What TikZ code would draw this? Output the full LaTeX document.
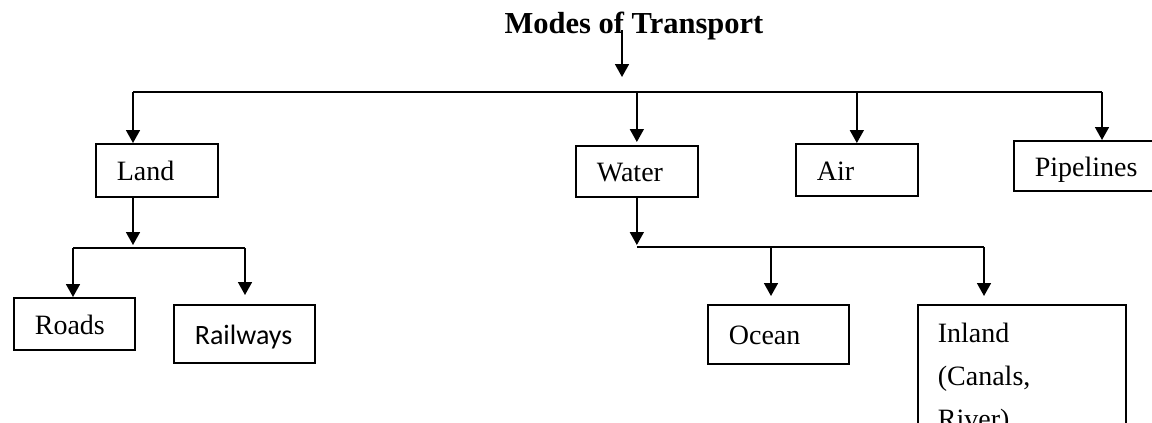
\documentclass[tikz,border=0pt]{standalone}
\usepackage{fontspec}
\setmainfont{Liberation Serif}
\newfontfamily\calibrifont{Carlito}
\usetikzlibrary{arrows.meta}

\begin{document}
\begin{tikzpicture}[x=1pt,y=-1pt,line width=1.7pt,
    >={Triangle[length=13pt,width=14pt]},
    box/.style={draw, anchor=north west, align=left, inner xsep=21pt, inner ysep=0pt,
      font=\fontsize{28}{43}\selectfont},
    cell/.style 2 args={box, text width=#1, minimum height=#2, text height=21pt, text depth=0pt}]
  \useasboundingbox (0,0) rectangle (1152,423);
  \clip (0,0) rectangle (1152,423);

  \node[anchor=base, font=\fontsize{30.5}{36}\selectfont\bfseries] (title) at (634,33) {Modes of Transport};
  \coordinate (hub) at (622,77);
  \draw[->] (title.base -| hub) ++(0,-3) -- (hub);

  % first level
  \node[cell={80pt}{53pt}]  (land)  at (95,143)  {Land};
  \node[cell={80pt}{51pt}]  (water) at (575,145) {Water};
  \node[cell={80pt}{52pt}]  (air)   at (795,143) {Air};
  \node[cell={108pt}{50pt}] (pipes) at (1013,140) {Pipelines};
  \coordinate (busL) at (133,92);
  \coordinate (busR) at (1102,92);
  \draw (busL) -- (busR);
  \draw[->] (busL) -- (busL |- land.north);
  \draw[->, shorten >=3pt] (water.north |- busL) -- (water.north);
  \draw[->] (air.north |- busL) -- (air.north);
  \draw[->] (busR) -- (busR |- pipes.north);

  % land
  \node[cell={79pt}{52pt}] (roads) at (13,297) {Roads};
  \node[cell={99pt}{58pt}, font=\calibrifont\fontsize{28}{43}\selectfont] (rail) at (173,304) {Railways};
  \coordinate (landhub) at (133,245);
  \coordinate (roadsbus) at (73,248);
  \coordinate (railbus) at (245,248);
  \draw[->] (land.south -| landhub) -- (landhub);
  \draw (roadsbus) -- (railbus);
  \draw[->] (roadsbus) -- (roadsbus |- roads.north);
  \draw[->, shorten >=9pt] (railbus) -- (railbus |- rail.north);

  % water
  \node[cell={99pt}{59pt}] (ocean) at (707,304) {Ocean};
  \node[box, text width=168pt, inner xsep=20pt, inner ysep=18pt] (inland) at (917,304) {Inland\\(Canals,\\River)};
  \coordinate (waterhub) at (636,245);
  \coordinate (oceanbus) at (771,247);
  \coordinate (inlandbus) at (984,247);
  \draw[->] (water.south) -- (water.south |- waterhub);
  \draw (water.south |- inlandbus) -- (inlandbus);
  \draw[->, shorten >=8pt] (oceanbus) -- (oceanbus |- ocean.north);
  \draw[->, shorten >=8pt] (inlandbus) -- (inlandbus |- inland.north);
\end{tikzpicture}
\end{document}
